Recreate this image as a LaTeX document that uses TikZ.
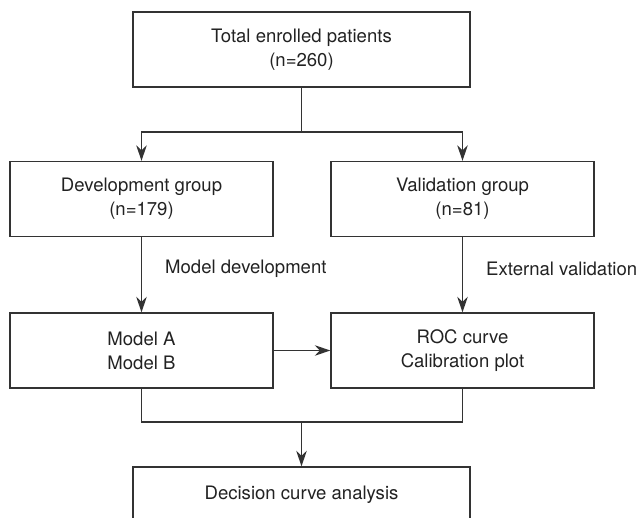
\documentclass[tikz,border=0pt]{standalone}
\usepackage{fontspec}
\setmainfont{TeX Gyre Heros}
\usepackage{xcolor}
\usetikzlibrary{arrows.meta,positioning,calc}

\definecolor{linegray}{HTML}{333333}
\definecolor{textgray}{HTML}{222222}

\tikzset{
  flowbox/.style={draw=linegray,line width=1pt,rectangle,align=center,
    text=textgray,minimum height=1.875cm,inner sep=0pt},
  wide/.style={flowbox,minimum width=8.425cm},
  narrow/.style={flowbox,minimum width=6.575cm},
  link/.style={draw=linegray,line width=1pt},
  steplabel/.style={text=textgray,inner sep=0pt}
}

\begin{document}
\begin{tikzpicture}[>={Stealth[length=11pt,width=7.5pt,inset=3.5pt]},
  font=\fontsize{13.2}{17}\selectfont]
  \useasboundingbox (0,0) rectangle (16,12.925);
  \clip (0,0) rectangle (16,12.925);

  \node[wide] (total) at (7.5375,11.6875) {Total enrolled patients\\(n=260)};
  \node[narrow] (dev) at (3.5375,7.95) {Development group\\(n=179)};
  \node[narrow] (val) at (11.5625,7.95) {Validation group\\(n=81)};
  \node[narrow] (model) at (3.5375,4.1625) {Model A\\Model B};
  \node[narrow] (roc) at (11.5625,4.1625) {ROC curve\\Calibration plot};
  \node[wide,minimum height=1.4cm] (dca) at (7.5375,0.55) {Decision curve analysis};

  \coordinate (split) at (total.south |- 0,9.625);
  \coordinate (join) at (total.south |- 0,2.375);

  \draw[link] (total.south) -- (split);
  \draw[link,->] (split) -| (dev.north);
  \draw[link,->] (split) -| (val.north);

  \draw[link,->] (dev) -- node[steplabel,pos=0.42,right=0.575cm] {Model development} (model);
  \draw[link,->] (val) -- node[steplabel,pos=0.42,right=0.575cm] {External validation} (roc);
  \draw[link,->] (model) -- (roc);

  \draw[link] (model.south) |- (join) -| (roc.south);
  \draw[link,->] (join) -- (dca.north);
\end{tikzpicture}
\end{document}
